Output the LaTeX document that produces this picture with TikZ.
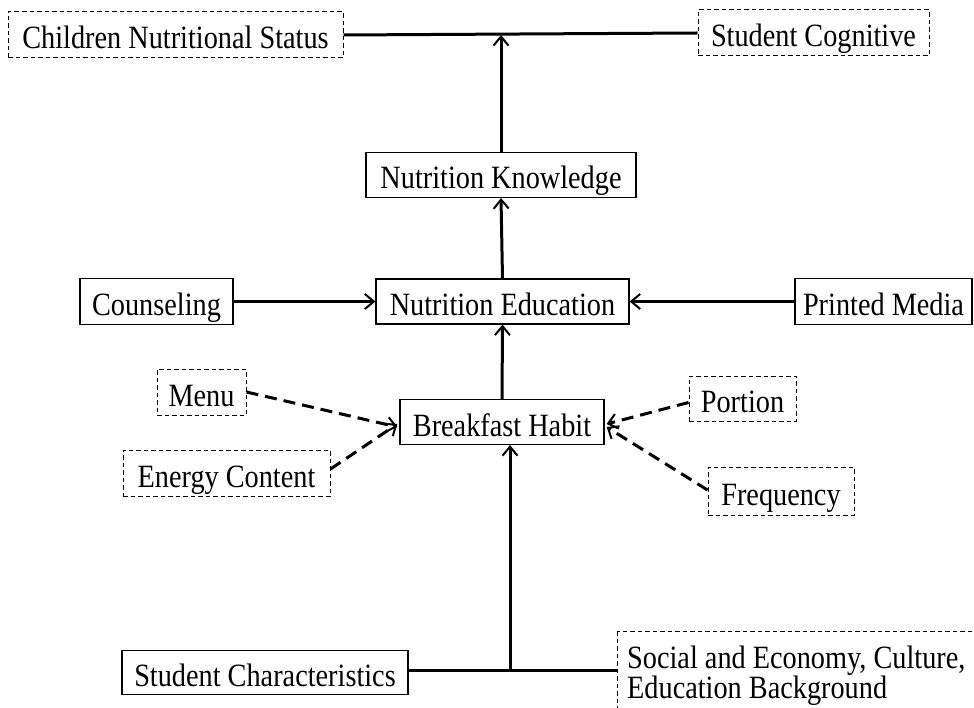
\documentclass[tikz,border=0pt]{standalone}
\usepackage{fontspec}
\setmainfont{Liberation Serif}[FakeStretch=0.87]
\usetikzlibrary{arrows.meta,calc}
\begin{document}
\begin{tikzpicture}[x=1pt,y=-1pt,
  txt/.style={font=\fontsize{32.5}{30}\selectfont},
  box/.style={draw,line width=1.2pt,inner sep=0pt,txt,text height=32pt,text depth=4pt},
  dbox/.style={box,line width=1pt,dash pattern=on 4.5pt off 3pt},
  conn/.style={line width=3pt},
  arr/.style={conn,-{Straight Barb[length=9pt,width=15pt,line width=2pt]}},
  darr/.style={arr,dash pattern=on 12pt off 7pt}]
\clip (0,0) rectangle (974,708);
\useasboundingbox (0,0) rectangle (974,708);
\node[dbox,minimum width=335pt,minimum height=46pt] (cns) at (175.5,35) {Children Nutritional Status};
\node[dbox,minimum width=231pt,minimum height=46pt] (sc) at (813.5,33) {Student Cognitive};
\node[box,minimum width=270pt,minimum height=45pt] (nk) at (501,175) {Nutrition Knowledge};
\node[box,minimum width=253pt,minimum height=45pt] (ne) at (502.5,301.5) {Nutrition Education};
\node[box,minimum width=153pt,minimum height=46pt] (co) at (156.5,301.5) {Counseling};
\node[box,minimum width=177pt,minimum height=46pt] (pm) at (883.5,301.5) {Printed Media};
\node[box,minimum width=204pt,minimum height=45pt] (bh) at (502,422) {Breakfast Habit};
\node[dbox,minimum width=89pt,minimum height=46pt] (me) at (201.5,392) {Menu};
\node[dbox,minimum width=107pt,minimum height=45pt] (po) at (742.5,398.5) {Portion};
\node[dbox,minimum width=207pt,minimum height=46pt] (ec) at (226.5,473) {Energy Content};
\node[dbox,minimum width=146pt,minimum height=48pt] (fr) at (781,491) {Frequency};
\node[box,minimum width=286pt,minimum height=44pt] (stc) at (265,672.5) {Student Characteristics};
\node[txt,anchor=north west,align=left,inner xsep=10pt,inner ysep=15pt] (soc) at (617,631) {Social and Economy, Culture,\\Education Background};
\draw[line width=1pt,dash pattern=on 4.5pt off 3pt] (soc.north west) rectangle ++(400,100);
% top line
\draw[conn] (cns.east) -- (sc.west);
\draw[arr] (nk.north) -- (nk.north |- cns.east);
\draw[arr] (ne.north) -- (nk.south);
\draw[arr] (co.east) -- (ne.west);
\draw[arr] (pm.west) -- (ne.east);
\draw[arr] (bh.north) -- (ne.south);
% bottom
\coordinate (j) at (510,670);
\draw[conn] (stc.east |- j) -- (j -| soc.west);
\draw[arr] (j) -- (j |- bh.south);
% dashed
\draw[darr] (me.east) -- ($(bh.west)+(-2,5)$);
\draw[darr] ($(ec.east)+(0,-4)$) -- ($(bh.west)+(-2,2)$);
\draw[darr] ($(po.west)+(0,4)$) -- ($(bh.east)+(2,2)$);
\draw[darr] ($(fr.west)+(0,-1)$) -- ($(bh.east)+(2,5)$);
\end{tikzpicture}
\end{document}
